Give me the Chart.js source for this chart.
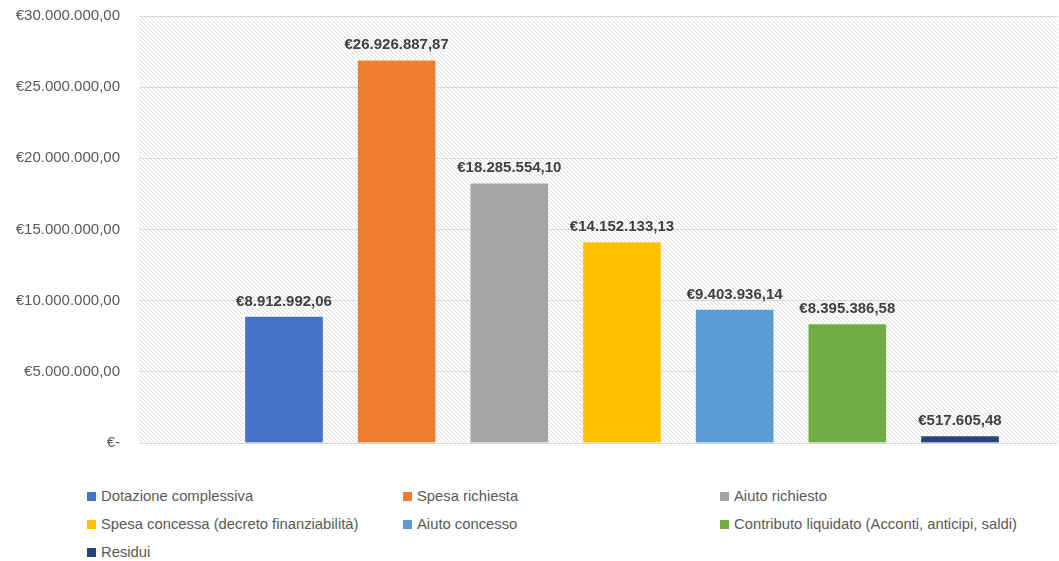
<!DOCTYPE html>
<html>
<head>
<meta charset="utf-8">
<script src="https://cdn.jsdelivr.net/npm/chart.js@4/dist/chart.umd.min.js"></script>
<style>
  html, body { margin: 0; padding: 0; background: #fff; overflow: hidden; }
  #wrap { position: relative; width: 1059px; height: 561px; }
  #spesa-chart { position: absolute; left: 0; top: 0; }
  #legend { position: absolute; left: 87px; top: 486px; width: 960px;
    display: grid; grid-template-columns: 316px 317px 320px; row-gap: 8px;
    font-family: "Liberation Sans", Arial, sans-serif; font-size: 14.8px; color: #595959; }
  #legend div { height: 20px; line-height: 20px; white-space: nowrap; }
  #legend span { display: inline-block; width: 9px; height: 9px; margin-right: 5px; vertical-align: 0px; }
</style>
</head>
<body>
<div id="wrap">
  <canvas id="spesa-chart" width="1059" height="452"></canvas>
  <div id="legend"></div>
</div>
<script>
// series shown in the chart, one bar each
var seriesNames = [
  "Dotazione complessiva",
  "Spesa richiesta",
  "Aiuto richiesto",
  "Spesa concessa (decreto finanziabilità)",
  "Aiuto concesso",
  "Contributo liquidato (Acconti, anticipi, saldi)",
  "Residui"
];
var seriesValues = [8912992.06, 26926887.87, 18285554.10, 14152133.13, 9403936.14, 8395386.58, 517605.48];
var seriesColors = ['#4472C4', '#ED7D31', '#A5A5A5', '#FFC000', '#5B9BD5', '#70AD47', '#264478'];
var yTicks = [0, 5000000, 10000000, 15000000, 20000000, 25000000, 30000000];

/* euro formatting, italian style: €1.234.567,89 */
function euro(v) {
  if (v === 0) return "€-";
  var parts = v.toFixed(2).split(".");
  var intPart = parts[0].replace(/\B(?=(\d{3})+(?!\d))/g, ".");
  return "€" + intPart + "," + parts[1];
}

/* hatched plot background like the excel pattern fill */
function hatch() {
  var c = document.createElement('canvas');
  c.width = 4; c.height = 4;
  var g = c.getContext('2d');
  g.fillStyle = '#fff';
  g.fillRect(0, 0, 4, 4);
  g.strokeStyle = '#dcdcdc';
  g.lineWidth = 1;
  g.beginPath();
  g.moveTo(-1, -1); g.lineTo(5, 5);
  g.moveTo(-1, 3); g.lineTo(1, 5);
  g.moveTo(3, -1); g.lineTo(5, 1);
  g.stroke();
  return c;
}

var bgPlugin = {
  id: 'hatchBg',
  beforeDraw: function(chart) {
    var a = chart.chartArea, ctx = chart.ctx;
    ctx.save();
    ctx.fillStyle = ctx.createPattern(hatch(), 'repeat');
    ctx.fillRect(a.left, a.top, a.right - a.left, a.bottom - a.top);
    ctx.restore();
  }
};

var labelPlugin = {
  id: 'barValues',
  afterDatasetsDraw: function(chart) {
    var ctx = chart.ctx;
    ctx.save();
    ctx.font = 'bold 15px "Liberation Sans", Arial, sans-serif';
    ctx.fillStyle = '#404040';
    ctx.textAlign = 'center';
    ctx.textBaseline = 'bottom';
    chart.data.datasets.forEach(function(ds, i) {
      var bar = chart.getDatasetMeta(i).data[0];
      ctx.fillText(euro(ds.data[0].y), bar.x, bar.y - 7);
    });
    ctx.restore();
  }
};

var datasets = seriesNames.map(function(name, i) {
  return {
    label: name,
    data: [{x: i, y: seriesValues[i]}],
    backgroundColor: seriesColors[i],
    borderColor: 'rgba(255,255,255,0.45)',
    borderWidth: 1,
    barThickness: 79
  };
});

var chart = new Chart(document.getElementById('spesa-chart'), {
  type: 'bar',
  data: { datasets: datasets },
  plugins: [bgPlugin, labelPlugin],
  options: {
    responsive: false,
    animation: false,
    layout: { padding: { left: 0, right: 1, top: 16, bottom: 9 } },
    plugins: { legend: { display: false }, tooltip: { enabled: false } },
    datasets: { bar: { grouped: false } },
    scales: {
      x: {
        type: 'linear',
        offset: false,
        min: -1.287,
        max: 6.87,
        display: false
      },
      y: {
        min: 0,
        max: 30000000,
        afterBuildTicks: function(scale) {
          scale.ticks = yTicks.map(function(v) { return {value: v}; });
        },
        afterFit: function(scale) { scale.width = 139; },
        border: { display: false },
        grid: { color: '#d9d9d9', drawTicks: true, tickLength: 19, tickColor: 'rgba(0,0,0,0)' },
        ticks: {
          padding: 0,
          color: '#595959',
          font: { family: '"Liberation Sans", Arial, sans-serif', size: 15 },
          callback: function(v) { return euro(v); }
        }
      }
    }
  }
});

/* html legend in three columns, as in the original spreadsheet */
var legendHtml = "";
seriesNames.forEach(function(name, i) {
  legendHtml += '<div><span style="background:' + seriesColors[i] + '"></span>' + name + '</div>';
});
document.getElementById('legend').innerHTML = legendHtml;
</script>
</body>
</html>
